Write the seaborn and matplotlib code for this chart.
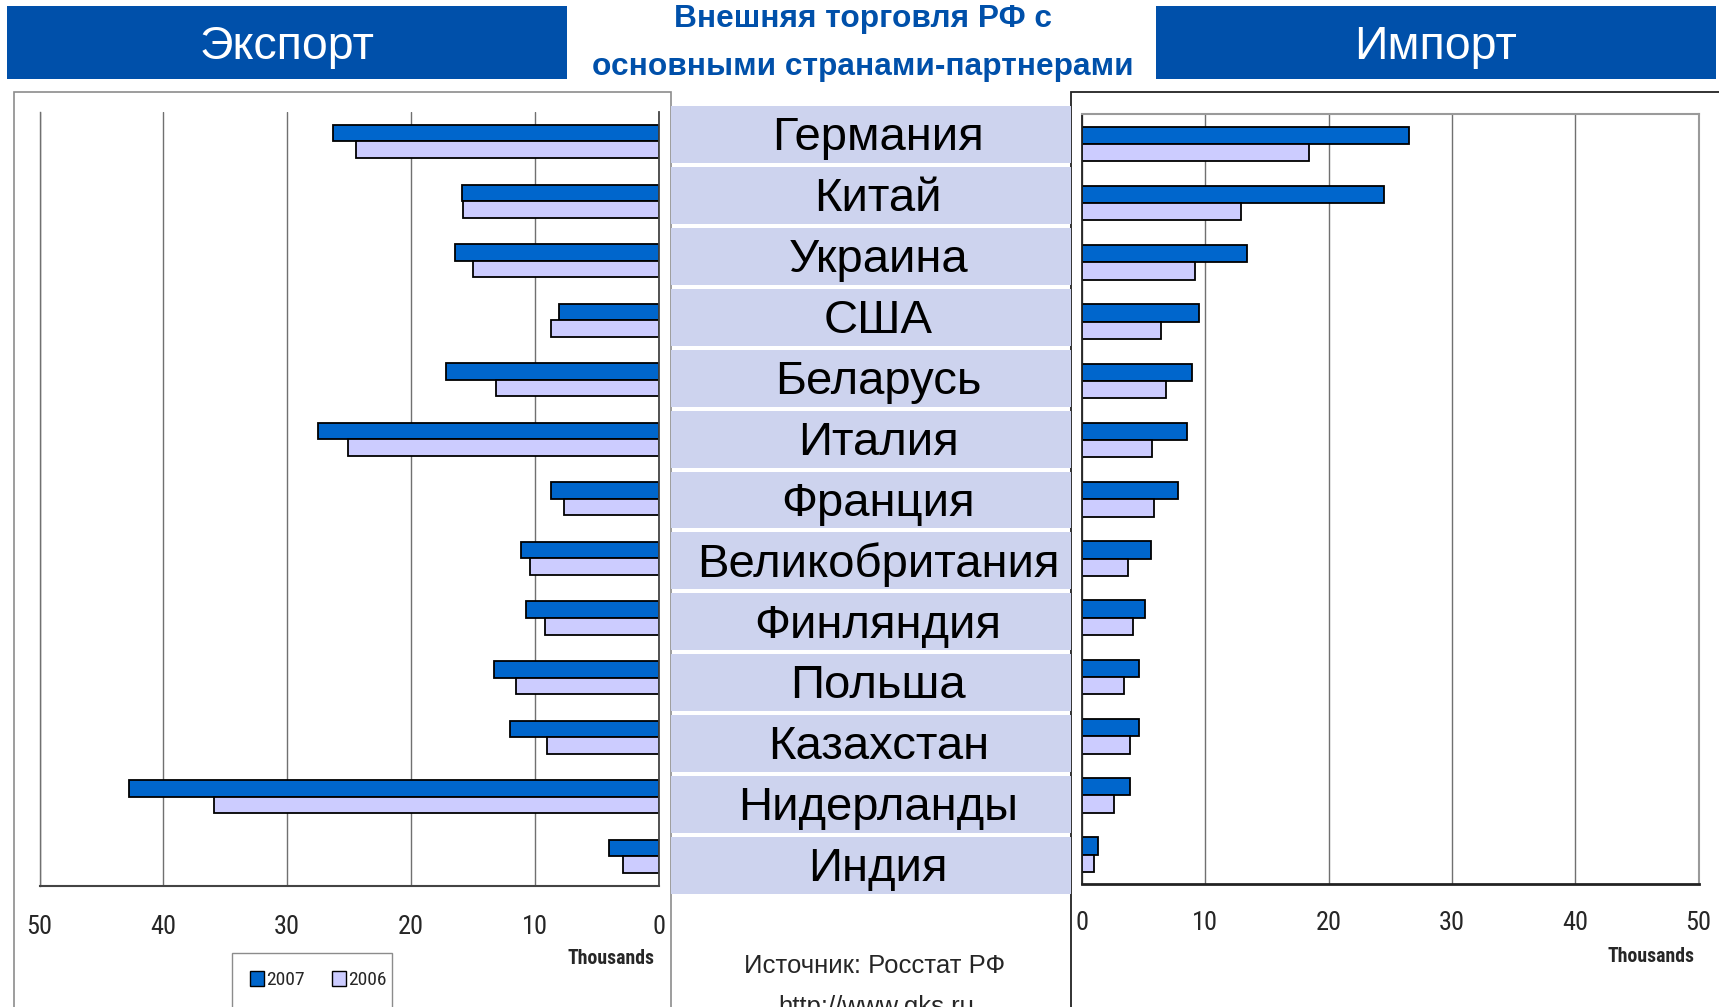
import numpy as np
import pandas as pd
import matplotlib
matplotlib.use('Agg')
import matplotlib.pyplot as plt
from matplotlib.patches import Rectangle, Patch
import matplotlib.font_manager as fm
import seaborn as sns

# ---------------- data ----------------
countries = ['Германия', 'Китай', 'Украина', 'США', 'Беларусь', 'Италия', 'Франция',
             'Великобритания', 'Финляндия', 'Польша', 'Казахстан', 'Нидерланды', 'Индия']
years = ['2007', '2006']
export_2007 = [26.3, 15.9, 16.4, 8.0, 17.2, 27.5, 8.7, 11.1, 10.7, 13.3, 12.0, 42.8, 4.0]
export_2006 = [24.4, 15.8, 15.0, 8.7, 13.1, 25.1, 7.6, 10.4, 9.2, 11.5, 9.0, 35.9, 2.9]
import_2007 = [26.5, 24.5, 13.4, 9.5, 8.9, 8.5, 7.8, 5.6, 5.1, 4.6, 4.6, 3.9, 1.3]
import_2006 = [18.4, 12.9, 9.2, 6.4, 6.8, 5.7, 5.8, 3.7, 4.1, 3.4, 3.9, 2.6, 1.0]
x_ticks = [0, 10, 20, 30, 40, 50]
axis_unit = 'Thousands'
title_lines = ['Внешняя торговля РФ с', 'основными странами-партнерами']
left_banner = 'Экспорт'
right_banner = 'Импорт'
source_lines = ['Источник: Росстат РФ', 'http://www.gks.ru']

# ---------------- style ----------------
sns.set_style('white')
names = {f.name for f in fm.fontManager.ttflist}
MAIN = 'Liberation Sans' if 'Liberation Sans' in names else 'DejaVu Sans'
plt.rcParams['font.family'] = [MAIN, 'DejaVu Sans']


def find_condensed(bold=False):
    """Look for a condensed / narrow sans face among the installed fonts."""
    prefs = ['Liberation Sans Narrow', 'Noto Sans', 'Roboto', 'Open Sans', 'DejaVu Sans', 'Lato', 'Inter']
    cands = []
    for f in fm.fontManager.ttflist:
        fn = f.fname.lower()
        is_cond = (f.stretch in ('condensed', 'semi-condensed', 'extra-condensed')
                   or 'narrow' in f.name.lower() or 'condensed' in f.name.lower()
                   or 'narrow' in fn or ('condensed' in fn and 'extracondensed' not in fn
                                         and 'semicondensed' not in fn))
        if not is_cond or f.style != 'normal':
            continue
        w = f.weight if isinstance(f.weight, int) else (700 if 'bold' in str(f.weight) else 400)
        if bold and w < 600:
            continue
        if not bold and not (350 <= w <= 500):
            continue
        if 'mono' in fn or 'serif' in fn and 'sans' not in fn:
            continue
        rank = len(prefs)
        for i, p in enumerate(prefs):
            if f.name.startswith(p):
                rank = i
                break
        cands.append((rank, abs(w - (700 if bold else 400)), f.fname))
    if not cands:
        return None
    cands.sort()
    return cands[0][2]


cond_reg = find_condensed(False)
cond_bold = find_condensed(True)


def fp(size, bold=False):
    path = cond_bold if bold else cond_reg
    if path:
        return fm.FontProperties(fname=path, size=size)
    return fm.FontProperties(family=MAIN, size=size * 0.82,
                             weight='bold' if bold else 'normal')


C07 = '#0066CC'
C06 = '#CCCCFF'
BANNER = '#0050AA'
CELL = '#CDD3EE'
GRID = '#707070'

W, H = 1719, 1007
fig = plt.figure(figsize=(W / 100, H / 100), dpi=100)


def rect(x0, y0, x1, y1):
    return [x0 / W, 1 - y1 / H, (x1 - x0) / W, (y1 - y0) / H]


# background / decoration axes in pixel coordinates
bg = fig.add_axes([0, 0, 1, 1], zorder=-5)
bg.set_xlim(0, W)
bg.set_ylim(H, 0)
bg.axis('off')

bg.add_patch(Rectangle((7, 6), 560, 73, facecolor=BANNER, edgecolor='none'))
bg.add_patch(Rectangle((1156, 6), 560, 73, facecolor=BANNER, edgecolor='none'))
bg.text(287, 47, left_banner, color='white', fontsize=33.5, ha='center', va='center')
bg.text(1436, 47, right_banner, color='white', fontsize=33.5, ha='center', va='center')
bg.text(863, 19, title_lines[0], color=BANNER, fontsize=22.8, fontweight='bold',
        ha='center', va='center')
bg.text(863, 67, title_lines[1], color=BANNER, fontsize=22.8, fontweight='bold',
        ha='center', va='center')

# chart frames
bg.add_patch(Rectangle((13.5, 91.5), 657.5, 960, facecolor='white', edgecolor='#8c8c8c', lw=1.2))
bg.add_patch(Rectangle((1071, 91.5), 700, 960, facecolor='white', edgecolor='#222222', lw=1.3))

# legend frame
bg.add_patch(Rectangle((232, 953), 160, 100, facecolor='white', edgecolor='#8c8c8c', lw=1.0))

bg.text(654, 959, axis_unit, fontproperties=fp(14.2, bold=True), ha='right', va='center')
bg.text(1694, 957, axis_unit, fontproperties=fp(14.2, bold=True), ha='right', va='center')

bg.text(875, 966, source_lines[0], fontsize=18.5, ha='center', va='center')
bg.text(876, 1007, source_lines[1], fontsize=18.5, ha='center', va='center')


def long_df(v07, v06):
    return pd.DataFrame({
        'country': countries * 2,
        'year': [years[0]] * len(countries) + [years[1]] * len(countries),
        'value': list(v07) + list(v06),
    })


def style_value_axis(ax, lim, pad):
    ax.set_xlim(*lim)
    ax.set_xticks(x_ticks)
    ax.set_yticks([])
    ax.set_xlabel('')
    ax.set_ylabel('')
    ax.xaxis.grid(True, color=GRID, lw=1.0)
    ax.yaxis.grid(False)
    ax.set_axisbelow(True)
    ax.tick_params(axis='x', direction='out', length=6, width=1.0, color='#444444', pad=pad)
    ax.set_xticklabels([str(t) for t in x_ticks])
    for lab in ax.get_xticklabels():
        lab.set_fontproperties(fp(19))
    ax.patch.set_alpha(0)


# ---------------- export (left) ----------------
axL = fig.add_axes(rect(39.5, 111.7, 658.5, 886))
sns.barplot(data=long_df(export_2007, export_2006), y='country', x='value', hue='year',
            hue_order=years, palette=[C07, C06], orient='h', width=0.555, saturation=1,
            edgecolor='black', linewidth=1.3, errorbar=None, legend=False, ax=axL)
style_value_axis(axL, (50, 0), pad=15)
axL.spines['top'].set_visible(False)
axL.spines['left'].set_color(GRID)
axL.spines['left'].set_linewidth(1.0)
axL.spines['right'].set_color('#444444')
axL.spines['right'].set_linewidth(1.3)
axL.spines['bottom'].set_color('#444444')
axL.spines['bottom'].set_linewidth(1.5)

handles = [Patch(facecolor=C07, edgecolor='black', lw=1.0),
           Patch(facecolor=C06, edgecolor='black', lw=1.0)]
leg = fig.legend(handles, years, ncol=2, frameon=False, loc='center left',
                 bbox_to_anchor=(250 / W, 1 - 980 / H), bbox_transform=fig.transFigure,
                 borderaxespad=0, handlelength=0.72, handleheight=0.8, handletextpad=0.1,
                 columnspacing=1.4, borderpad=0, prop=fp(14))

# ---------------- import (right) ----------------
axR = fig.add_axes(rect(1082, 114.3, 1698.5, 884.3))
sns.barplot(data=long_df(import_2007, import_2006), y='country', x='value', hue='year',
            hue_order=years, palette=[C07, C06], orient='h', width=0.585, saturation=1,
            edgecolor='black', linewidth=1.3, errorbar=None, legend=False, ax=axR)
style_value_axis(axR, (0, 50), pad=13)
for s in ['top', 'right']:
    axR.spines[s].set_color('#9a9a9a')
    axR.spines[s].set_linewidth(1.5)
axR.spines['left'].set_color('#222222')
axR.spines['left'].set_linewidth(1.3)
axR.spines['bottom'].set_color('#222222')
axR.spines['bottom'].set_linewidth(2.0)

# ---------------- country band (centre) ----------------
axC = fig.add_axes(rect(671, 104, 1071, 896))
sns.barplot(x=[1] * len(countries), y=countries, orient='h', color=CELL, saturation=1,
            width=0.935, linewidth=0, ax=axC)
axC.set_xlim(0, 1)
axC.axis('off')
for i, name in enumerate(countries):
    axC.text(0.518, i + 0.06, name, fontsize=34, color='black', ha='center', va='center')

fig.savefig('out.png', dpi=100)
